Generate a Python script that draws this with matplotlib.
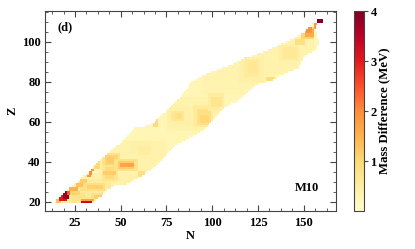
import numpy as np
from matplotlib import pyplot as plt
from matplotlib.ticker import MultipleLocator

plt.rcParams['font.family'] = ['Liberation Serif', 'DejaVu Serif']
plt.rcParams['font.weight'] = 'bold'

BASE = 0.26

# left and right edge of the band (N), one entry per Z, starting at Z = 20
first_z = 20
n_lo = [15, 15, 17, 18, 19, 20, 21, 22, 24, 25, 27, 28, 29, 30, 32, 33, 34, 35, 36, 37,
        38, 39, 40, 42, 43, 44, 45, 47, 48, 50, 51, 52, 53, 54, 55, 56, 57, 58, 64, 67,
        69, 70, 71, 72, 73, 75, 76, 77, 78, 79, 80, 81, 83, 84, 84, 85, 86, 87, 88, 88,
        89, 91, 93, 95, 97, 100, 103, 106, 109, 112, 114, 116, 118, 122, 125, 128, 131,
        133, 136, 138, 141, 143, 145, 147, 149, 151, 152, 153, 154, 155, 158, 158]
n_hi = [35, 36, 37, 39, 40, 41, 42, 44, 46, 53, 55, 57, 59, 61, 63, 64, 66, 67, 69, 70,
        71, 72, 73, 74, 75, 76, 77, 78, 79, 81, 83, 85, 87, 89, 91, 93, 95, 96, 97, 98,
        99, 100, 101, 102, 103, 104, 105, 106, 108, 110, 113, 114, 115, 117, 118, 119,
        120, 122, 123, 125, 129, 133, 135, 136, 139, 141, 144, 147, 147, 148, 148, 149,
        149, 150, 152, 154, 156, 157, 157, 158, 158, 158, 157, 157, 157, 157, 156, 156,
        156, 157, 160, 160]

# regions that differ from the base value: z from, z to, n from, n to, MeV
# later rows are drawn over earlier ones
spots = [
    # pale background variation along the band
    (20, 34, 15, 60, 0.38), (34, 50, 38, 75, 0.36), (56, 72, 76, 106, 0.36),
    (74, 92, 95, 130, 0.34), (84, 102, 125, 155, 0.36),
    # light end of the band
    (20, 25, 22, 34, 0.6), (24, 31, 26, 44, 0.55), (26, 29, 28, 41, 0.85),
    (27, 28, 32, 40, 1.1), (22, 24, 34, 41, 0.8), (22, 23, 36, 40, 1.15),
    (21, 24, 24, 30, 0.75), (24, 25, 23, 27, 1.05), (26, 27, 22, 26, 1.5),
    (28, 29, 26, 29, 1.3), (30, 31, 28, 31, 1.15),
    # blobs around N = 45 and N = 55
    (38, 44, 40, 49, 0.75), (39, 43, 42, 48, 1.05), (40, 42, 43, 46, 1.2),
    (31, 38, 40, 48, 0.7), (32, 37, 42, 46, 0.95), (34, 35, 41, 47, 1.15),
    (36, 41, 47, 59, 0.75), (37, 40, 49, 57, 1.15), (38, 39, 50, 57, 1.7),
    (33, 35, 60, 63, 0.85), (37, 40, 36, 38, 1.0),
    (45, 50, 56, 66, 0.42), (44, 47, 60, 66, 0.5),
    # orange streak on the upper edge
    (33, 33, 32, 33, 1.9), (34, 34, 33, 34, 2.0), (35, 35, 33, 34, 2.0),
    (36, 36, 34, 35, 1.9),
    # hot corner at the light end
    (20, 21, 15, 17, 1.3), (21, 23, 17, 20, 3.0), (22, 25, 19, 21, 3.8),
    (24, 25, 21, 22, 2.4), (21, 21, 29, 35, 1.7), (20, 20, 29, 34, 3.3),
    # middle of the band
    (58, 61, 68, 70, 0.95), (59, 67, 76, 88, 0.42), (61, 65, 78, 84, 0.65),
    (62, 64, 80, 83, 0.8), (58, 68, 90, 100, 0.55), (59, 66, 92, 99, 0.8),
    (60, 63, 94, 98, 1.0), (66, 74, 98, 106, 0.5), (68, 72, 100, 105, 0.7),
    (80, 92, 115, 128, 0.42), (83, 91, 118, 125, 0.55), (85, 90, 120, 124, 0.65),
    (81, 82, 130, 134, 0.9), (91, 98, 137, 147, 0.45), (92, 97, 139, 146, 0.6),
    # heavy end
    (99, 101, 146, 150, 0.85), (102, 107, 149, 155, 1.05), (103, 106, 151, 155, 1.6),
    (105, 107, 152, 154, 1.95), (107, 109, 156, 159, 1.85), (110, 111, 158, 160, 3.95),
]

z_ticks = [20, 40, 60, 80, 100]
n_ticks = [25, 50, 75, 100, 125, 150]
cbar_ticks = [1, 2, 3, 4]

ns = np.arange(10, 165)
zs = np.arange(first_z, first_z + len(n_lo))
grid = np.full((len(zs), len(ns)), np.nan)
for i, z in enumerate(zs):
    row = (ns >= n_lo[i]) & (ns <= n_hi[i])
    grid[i, row] = BASE
    for z0, z1, n0, n1, val in spots:
        if z0 <= z <= z1:
            grid[i, row & (ns >= n0) & (ns <= n1)] = val

fig = plt.figure(figsize=(4.15, 2.49), dpi=100)
ax = fig.add_axes([45 / 415, 1 - 211 / 249, 290.5 / 415, 200 / 249])
mesh = ax.pcolormesh(ns, zs, grid, cmap='YlOrRd', vmin=0, vmax=4, shading='nearest')
ax.set_xlim(8.6, 167.4)
ax.set_ylim(15.3, 115.3)

ax.set_xticks(n_ticks)
ax.set_yticks(z_ticks)
ax.xaxis.set_minor_locator(MultipleLocator(6.25))
ax.yaxis.set_minor_locator(MultipleLocator(5))
ax.tick_params(which='both', direction='in', top=True, right=True, color='#444444', labelsize=9)
ax.tick_params(which='major', length=4, width=0.8)
ax.tick_params(which='minor', length=2.2, width=0.6)
ax.tick_params(axis='x', pad=4)
ax.tick_params(axis='y', pad=3)
for s in ax.spines.values():
    s.set_color('#444444')
    s.set_linewidth(0.8)

ax.set_xlabel('N', fontsize=9, fontweight='bold', labelpad=1)
ax.set_ylabel('Z', fontsize=9, fontweight='bold', labelpad=2.5)
ax.text(0.043, 0.92, '(d)', transform=ax.transAxes, fontsize=9, fontweight='bold', va='center')
ax.text(0.86, 0.115, 'M10', transform=ax.transAxes, fontsize=9, fontweight='bold', va='center')

cax = fig.add_axes([353.5 / 415, 1 - 211 / 249, 10 / 415, 200 / 249])
cbar = fig.colorbar(mesh, cax=cax)
cbar.set_ticks(cbar_ticks)
cbar.ax.tick_params(labelsize=9, length=3, width=0.8, color='#444444', pad=2)
cbar.outline.set_edgecolor('#444444')
cbar.outline.set_linewidth(0.8)
cbar.set_label('Mass Difference (MeV)', fontsize=9.2, fontweight='bold', labelpad=1)

fig.savefig('out.png', dpi=100)
